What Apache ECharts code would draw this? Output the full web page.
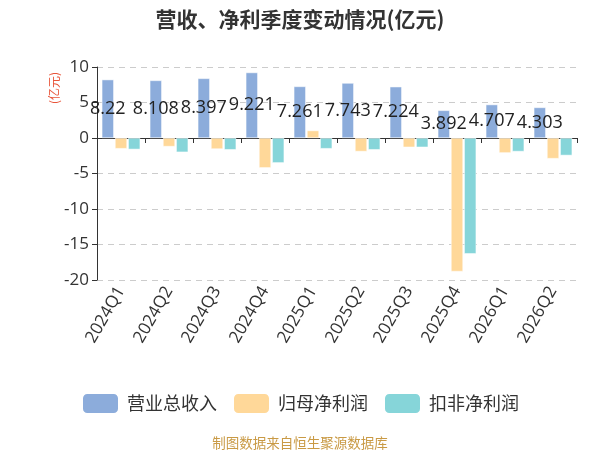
<!DOCTYPE html>
<html>
<head>
<meta charset="utf-8">
<script src="https://cdn.jsdelivr.net/npm/echarts@6/dist/echarts.min.js"></script>
<style>
    html, body { margin: 0; padding: 0; background: #fff; }
    #main { width: 600px; height: 450px; }
</style>
</head>
<body>
<div id="main"></div>
<script>
var quarters = ['2024Q1', '2024Q2', '2024Q3', '2024Q4', '2025Q1', '2025Q2', '2025Q3', '2025Q4', '2026Q1', '2026Q2']
var revenue = [8.22, 8.108, 8.397, 9.221, 7.261, 7.743, 7.224, 3.892, 4.707, 4.303]
var netProfit = [-1.5, -1.2, -1.55, -4.2, 1.05, -1.9, -1.3, -18.8, -2.1, -2.9]
var deductedProfit = [-1.6, -2.0, -1.65, -3.5, -1.5, -1.65, -1.3, -16.3, -1.9, -2.45]
var yTicks = [-20, 10, 5] // min, max, interval

var font = "'Open Sans', 'Noto Sans CJK SC', sans-serif"
var cjk = "'Noto Sans CJK SC', sans-serif"

var myChart = echarts.init(document.getElementById('main'))
var option = {
    animation: false,
    textStyle: { fontFamily: font },
    color: ['#8cacdb', '#ffd899', '#86d5d9'],
    title: [
        {
            text: '营收、净利季度变动情况(亿元)',
            left: 'center',
            top: 4,
            textStyle: { fontSize: 21, fontWeight: 'bold', color: '#333', fontFamily: cjk }
        },
        {
            text: '制图数据来自恒生聚源数据库',
            left: 'center',
            top: 431,
            textStyle: { fontSize: 13.5, fontWeight: 'normal', color: '#c99a45', fontFamily: cjk }
        }
    ],
    graphic: [{
        type: 'text',
        x: 48,
        y: 104,
        rotation: Math.PI / 2,
        style: { text: '(亿元)', fill: '#e8553a', fontSize: 12, fontFamily: cjk }
    }],
    legend: {
        top: 387,
        left: 'center',
        itemWidth: 37,
        itemHeight: 21,
        itemGap: 15,
        itemStyle: { borderRadius: 4 },
        textStyle: { fontSize: 18, color: '#333', fontFamily: cjk, padding: [0, 0, 0, 3] },
        data: ['营业总收入', '归母净利润', '扣非净利润']
    },
    grid: {
        left: 97,
        right: 23,
        top: 67,
        bottom: 170,
        outerBoundsMode: 'none'
    },
    xAxis: {
        type: 'category',
        data: quarters,
        axisLine: { onZero: true, lineStyle: { color: '#333' } },
        axisTick: { show: true, length: 5, lineStyle: { color: '#333' } },
        axisLabel: {
            interval: 0,
            rotate: 60,
            fontSize: 17,
            color: '#333',
            margin: 8
        }
    },
    yAxis: {
        type: 'value',
        min: yTicks[0],
        max: yTicks[1],
        interval: yTicks[2],
        axisLine: { show: true, lineStyle: { color: '#333' } },
        axisTick: { show: true, length: 5, lineStyle: { color: '#333' } },
        axisLabel: { fontSize: 17, color: '#333', margin: 8 },
        splitLine: { lineStyle: { color: '#ccc', type: [6, 5] } }
    },
    series: [
        {
            name: '营业总收入',
            type: 'bar',
            barWidth: 12,
            barGap: '10%',
            data: revenue,
            itemStyle: { borderColor: '#fff', borderWidth: 0.5 },
            label: {
                show: true,
                position: 'inside',
                color: '#222',
                fontSize: 18
            }
        },
        {
            name: '归母净利润',
            type: 'bar',
            barWidth: 12,
            barGap: '10%',
            data: netProfit,
            itemStyle: { borderColor: '#fff', borderWidth: 0.5 }
        },
        {
            name: '扣非净利润',
            type: 'bar',
            barWidth: 12,
            barGap: '10%',
            data: deductedProfit,
            itemStyle: { borderColor: '#fff', borderWidth: 0.5 }
        }
    ]
}
myChart.setOption(option)
</script>
</body>
</html>
